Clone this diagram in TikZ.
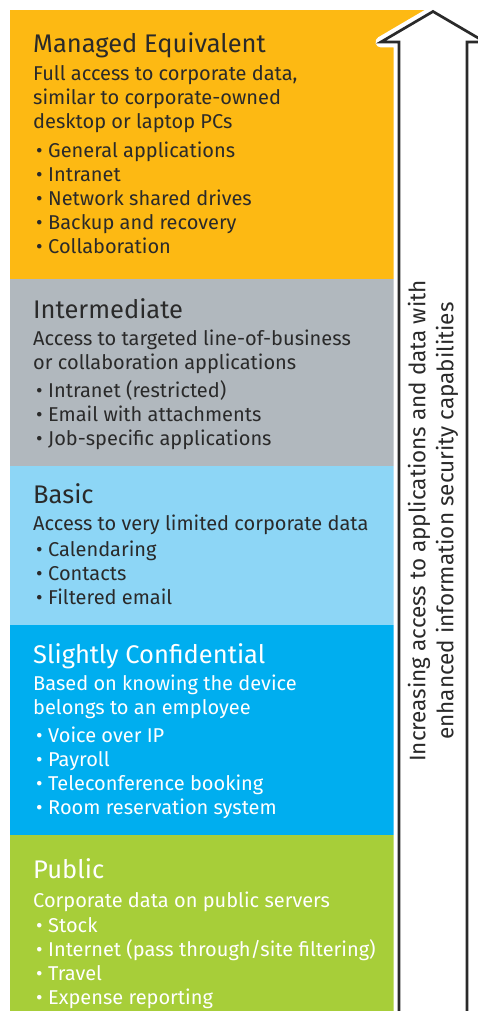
\documentclass[tikz,border=0pt]{standalone}
\usepackage{fontspec}
\setmainfont{Fira Sans}
\usepackage{tikz}

\definecolor{tieryellow}{HTML}{FDB913}
\definecolor{tiergray}{HTML}{B1B8BE}
\definecolor{tierlightblue}{HTML}{8DD6F6}
\definecolor{tierblue}{HTML}{00AEEF}
\definecolor{tiergreen}{HTML}{A7CE39}
\definecolor{inkdark}{HTML}{2A2A2A}

\newcommand{\bul}{\makebox[15pt][l]{\hspace{3pt}•}}

\begin{document}
\begin{tikzpicture}[x=1pt, y=-1pt,
			tiertitle/.style={anchor=base west, inner sep=0pt, font=\fontsize{25.5}{26}\selectfont},
			tiertext/.style={anchor=base west, inner sep=0pt, align=left, font=\fontsize{20}{24}\selectfont},
			arrowpath/.style={line width=2.7pt, line join=miter, draw=inkdark}
		]

		\useasboundingbox (0,0) rectangle (477,1011);

		\fill[tieryellow] (10,10) rectangle (440,279);
		\fill[tiergray] (10,279) rectangle (399,466);
		\fill[tierlightblue] (10,466) rectangle (399,625);
		\fill[tierblue] (10,625) rectangle (399,835);
		\fill[tiergreen] (10,835) rectangle (399,1011);

		\node[tiertitle, text=inkdark] (managedtitle) at (33,52.7) {Managed Equivalent};
		\node[tiertext, text=inkdark] (manageddesc) at (33,129) {Full access to corporate data,\\similar to corporate-owned\\desktop or laptop PCs};
		\node[tiertext, text=inkdark] (managedlist) at (33,253) {\bul General applications\\\bul Intranet\\\bul Network shared drives\\\bul Backup and recovery\\\bul Collaboration};

		\node[tiertitle, text=inkdark] (intertitle) at (33,318) {Intermediate};
		\node[tiertext, text=inkdark] (interdesc) at (33,369) {Access to targeted line-of-business\\or collaboration applications};
		\node[tiertext, text=inkdark] (interlist) at (33,445) {\bul Intranet (restricted)\\\bul Email with attachments\\\bul Job-specific applications};

		\node[tiertitle, text=inkdark] (basictitle) at (33,503) {Basic};
		\node[tiertext, text=inkdark] (basicdesc) at (33,530) {Access to very limited corporate data};
		\node[tiertext, text=inkdark] (basiclist) at (33,604) {\bul Calendaring\\\bul Contacts\\\bul Filtered email};

		\node[tiertitle, text=white] (slighttitle) at (33,663) {Slightly Confidential};
		\node[tiertext, text=white] (slightdesc) at (33,714) {Based on knowing the device\\belongs to an employee};
		\node[tiertext, text=white] (slightlist) at (33,814) {\bul Voice over IP\\\bul Payroll\\\bul Teleconference booking\\\bul Room reservation system};

		\node[tiertitle, text=white] (publictitle) at (33,878) {Public};
		\node[tiertext, text=white] (publicdesc) at (33,907) {Corporate data on public servers};
		\node[tiertext, text=white] (publiclist) at (33,1004) {\bul Stock\\\bul Internet (pass through/site filtering)\\\bul Travel\\\bul Expense reporting};

		\fill[white] (399,1015) -- (399,42) -- (381,42) -- (433,11.5) -- (485,42) -- (467,42) -- (467,1015) -- cycle;
		\draw[white, line width=11pt, line join=round] (399,1015) -- (399,42) -- (381,42) -- (433,11.5) -- (485,42) -- (467,42) -- (467,1015);
		\draw[arrowpath] (399,1015) -- (399,42) -- (381,42) -- (433,11.5) -- (485,42) -- (467,42) -- (467,1015);

		\node[rotate=90, align=center, inner sep=0pt, font=\fontsize{22.5}{28}\selectfont, text=inkdark] (risetext) at (433,521) {Increasing access to applications and data with\\enhanced information security capabilities};
	\end{tikzpicture}
\end{document}
